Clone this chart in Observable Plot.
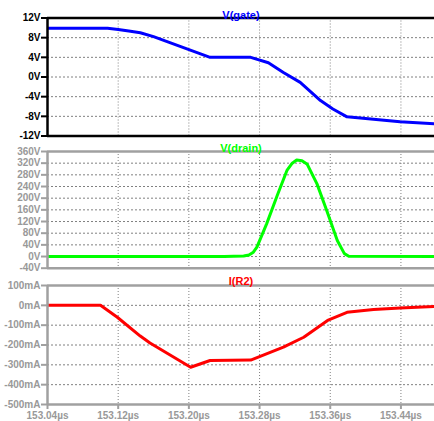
<!DOCTYPE html>
<html>
<head>
<meta charset="utf-8">
<script src="https://cdn.jsdelivr.net/npm/d3@7"></script>
<script src="https://cdn.jsdelivr.net/npm/@observablehq/plot@0.6"></script>
<style>
  html, body { margin: 0; padding: 0; background: white; }
  #chart svg { display: block; }
</style>
</head>
<body>
<div id="chart"></div>
<script>
// Time axis (µs)
const xTicks = [153.04, 153.12, 153.20, 153.28, 153.36, 153.44];
const xDomain = [153.04, 153.478];

// V(gate)
const gateT = [153.040, 153.108, 153.120, 153.132, 153.145, 153.160, 153.224, 153.270, 153.290, 153.307, 153.326, 153.349, 153.363, 153.379, 153.409, 153.439, 153.478];
const gateV = [9.9, 9.9, 9.65, 9.35, 9.0, 8.2, 4.0, 4.0, 2.9, 0.9, -1.1, -4.8, -6.5, -8.1, -8.6, -9.1, -9.5];
const gateTicks = [-12, -8, -4, 0, 4, 8, 12];

// V(drain)
const drainT = [153.040, 153.240, 153.262, 153.268, 153.273, 153.277, 153.288, 153.300, 153.311, 153.317, 153.322, 153.328, 153.334, 153.345, 153.356, 153.368, 153.376, 153.381, 153.478];
const drainV = [0, 0, 1.5, 5, 15, 32, 112, 209, 295, 320, 331, 328, 316, 249, 158, 55, 10, 1, 0];
const drainTicks = [-40, 0, 40, 80, 120, 160, 200, 240, 280, 320, 360];

// I(R2) in mA
const curT = [153.040, 153.100, 153.119, 153.145, 153.156, 153.202, 153.224, 153.270, 153.307, 153.330, 153.357, 153.379, 153.409, 153.439, 153.478];
const curI = [0, 0, -60, -155, -190, -312, -278, -276, -211, -161, -76, -35, -21, -14, -6];
const curTicks = [-500, -400, -300, -200, -100, 0, 100];

const toRows = (ts, vs) => ts.map((t, i) => ({t, v: vs[i]}));

const FONT = "'Liberation Sans', Arial, sans-serif";

function panel({rows, ticks, unit, color, title, frameColor, labelColor, height, marginTop, marginBottom, titleDy, showX}) {
  const yd = [ticks[0], ticks[ticks.length - 1]];
  const marks = [
    Plot.gridY(ticks.slice(1, -1), {stroke: "#808080", strokeOpacity: 1, strokeDasharray: "2,2", strokeWidth: 1}),
    Plot.gridX(xTicks.slice(1), {stroke: "#808080", strokeOpacity: 1, strokeDasharray: "1,2", strokeWidth: 1}),
    Plot.line(rows, {x: "t", y: "v", stroke: color, strokeWidth: 3, clip: true}),
    Plot.ruleY(yd, {stroke: frameColor, strokeWidth: 2.5}),
    Plot.ruleX([xDomain[0]], {stroke: frameColor, strokeWidth: 2.5}),
    Plot.axisY(ticks, {
      label: null,
      tickSize: 6, tickPadding: 1, strokeWidth: 2, stroke: frameColor, fill: labelColor,
      fontWeight: "bold", fontSize: 10,
      tickFormat: d => String(d) + unit
    }),
    Plot.text([title], {frameAnchor: "top", dy: titleDy, fill: color, fontWeight: "bold", fontSize: 11})
  ];
  if (showX) {
    marks.push(Plot.axisX(xTicks, {
      label: null,
      tickSize: 5, tickPadding: 2, strokeWidth: 2, stroke: frameColor, fill: labelColor,
      fontWeight: "bold", fontSize: 10,
      tickFormat: d => d.toFixed(2) + "µs"
    }));
  }
  return Plot.plot({
    width: 434, height, marginLeft: 47, marginRight: 0, marginTop, marginBottom,
    style: {fontFamily: FONT, background: "white", overflow: "visible"},
    x: {domain: xDomain, axis: null},
    y: {domain: yd, axis: null},
    marks
  });
}

const chart = document.getElementById("chart");
chart.append(panel({
  rows: toRows(gateT, gateV), ticks: gateTicks, unit: "V", color: "#0000ff", title: "V(gate)",
  frameColor: "#000000", labelColor: "#000000", height: 139, marginTop: 17.5, marginBottom: 3.5, titleDy: -6.5, showX: false
}));
chart.append(panel({
  rows: toRows(drainT, drainV), ticks: drainTicks, unit: "V", color: "#00ff00", title: "V(drain)",
  frameColor: "#a0a0a0", labelColor: "#999999", height: 131, marginTop: 12, marginBottom: 2.3, titleDy: -7.7, showX: false
}));
chart.append(panel({
  rows: toRows(curT, curI), ticks: curTicks, unit: "mA", color: "#ff0000", title: "I(R2)",
  frameColor: "#a0a0a0", labelColor: "#999999", height: 151, marginTop: 15, marginBottom: 17, titleDy: -8.3, showX: true
}));
</script>
</body>
</html>
